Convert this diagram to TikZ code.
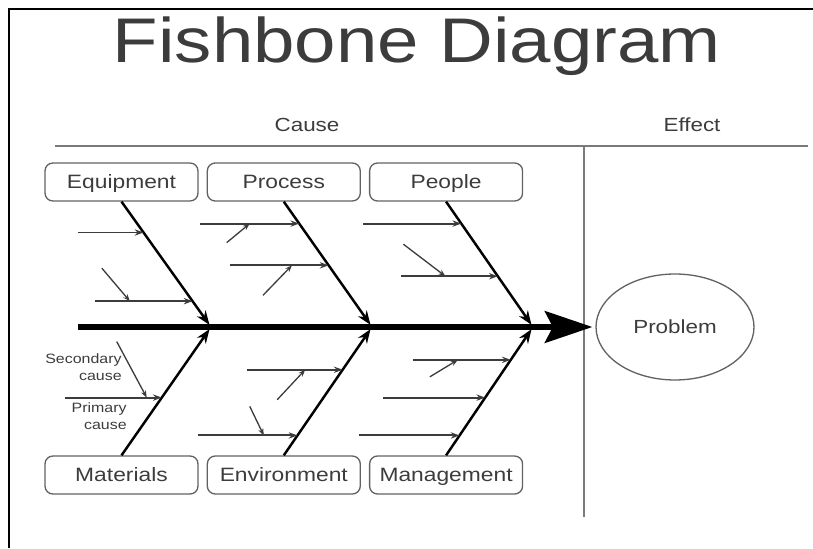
\documentclass[tikz,border=0pt]{standalone}
\usepackage{fontspec}
\setmainfont{Liberation Sans}[FakeStretch=1.18]
\usetikzlibrary{positioning,arrows.meta,calc,shapes.geometric}
\definecolor{ink}{HTML}{3C3C3C}
\definecolor{rulegray}{HTML}{7A7A7A}
\tikzset{
	>={Stealth[length=5pt,width=3.6pt]}
}

\begin{document}
\begin{tikzpicture}[
x = 0.02cm, y = 0.02cm,
node distance = 0.16cm,
every node/.style = {
	text = ink
},
cause box/.style = {
	draw = rulegray!80!black,
	line width = 0.75pt,
	rounded corners = 4.5pt,
	minimum width = 3.06cm,
	minimum height = 0.76cm,
	text height = 8pt,
	text depth = 0.3pt,
	inner sep = 0pt,
	font = \fontsize{11}{13}\selectfont
},
heading/.style = {
	anchor = base,
	font = \fontsize{10.8}{13}\selectfont
},
note/.style = {
	anchor = east,
	align = right,
	inner sep = 0pt,
	font = \fontsize{7.7}{9.6}\selectfont
},
divider/.style = {
	draw = rulegray,
	line width = 1.1pt
},
spine/.style = {
	-{Stealth[length=27pt,width=18pt,inset=4.5pt]},
	line width = 3.4pt,
	shorten > = 1.7pt
},
bone/.style = {
	-{Stealth[length=8pt,width=6pt]},
	line width = 1.4pt,
	shorten > = 1.5pt
},
primary/.style = {
	->,
	draw = ink,
	line width = 1.1pt
},
secondary/.style = {
	-{Stealth[length=4pt,width=3pt]},
	draw = ink,
	line width = 0.75pt
}
]

\useasboundingbox (0,0) rectangle (813,548);
\draw[line width=1.4pt] (9,0) -- (9,539) -- (813,539);

\node [anchor=base, font=\fontsize{35.9}{40}\selectfont] (title) at (417,485) {Fishbone Diagram};
\node [heading] (cause) at (307,416) {Cause};
\node [heading] (effect) at (692,416) {Effect};

\draw[divider] (55,402) -- (808,402);
\draw[divider] (584,402) -- (584,31);

\node [cause box] (equip) at (121.5,366) {Equipment};
\node [cause box, right = of equip] (proc) {Process};
\node [cause box, right = of proc] (ppl) {People};

\node [cause box] (mat) at (121.5,73) {Materials};
\node [cause box, right = of mat] (env) {Environment};
\node [cause box, right = of env] (mgmt) {Management};

\node [ellipse, draw=rulegray!80!black, line width=0.75pt, minimum width=3.16cm, minimum height=2.12cm,
	font=\fontsize{10.8}{13}\selectfont] (problem) at (675,221) {Problem};

\coordinate (tail) at (78,221);
\coordinate (j1) at (211,221);
\coordinate (j2) at (372,221);
\coordinate (j3) at (533,221);

\draw[spine] (tail) -- (problem.west);

\foreach \b/\j in {equip/j1, proc/j2, ppl/j3}
	\draw[bone] (\b.south) -- (\j);
\foreach \b/\j in {mat/j1, env/j2, mgmt/j3}
	\draw[bone] (\b.north) -- (\j);

\foreach \b/\j/\t/\len/\n in {
	equip.south/j1/.246/66/eqa, equip.south/j1/.794/98/eqb,
	proc.south/j2/.175/99/pra, proc.south/j2/.508/99/prb,
	ppl.south/j3/.175/98/pea, ppl.south/j3/.595/97/peb,
	mat.north/j1/.45/97/maa,
	env.north/j2/.667/96/ena, env.north/j2/.155/99/enb,
	mgmt.north/j3/.744/98/mga, mgmt.north/j3/.45/102/mgb, mgmt.north/j3/.155/101/mgc}
{
	\path ($(\b)!\t!(\j)$) coordinate (\n-end) ++(-\len,0) coordinate (\n-start);
	\draw[primary] (\n-start) -- (\n-end);
}

\foreach \n/\t/\dx/\dy in {
	eqb/.36/-28/33, pra/.5/-23/-19, prb/.63/-29/-30, peb/.46/-42/32,
	maa/.845/-30/56, ena/.61/-28/-30, enb/.66/-14/29, mga/.46/-28/-17}
{
	\path ($(\n-start)!\t!(\n-end)$) coordinate (\n-hit) ++(\dx,\dy) coordinate (\n-from);
	\draw[secondary] (\n-from) -- (\n-hit);
}

\node [note] (sec note) at (122,181) {Secondary\\cause};
\node [note] (prim note) at (127,132) {Primary\\cause};

\end{tikzpicture}
\end{document}
